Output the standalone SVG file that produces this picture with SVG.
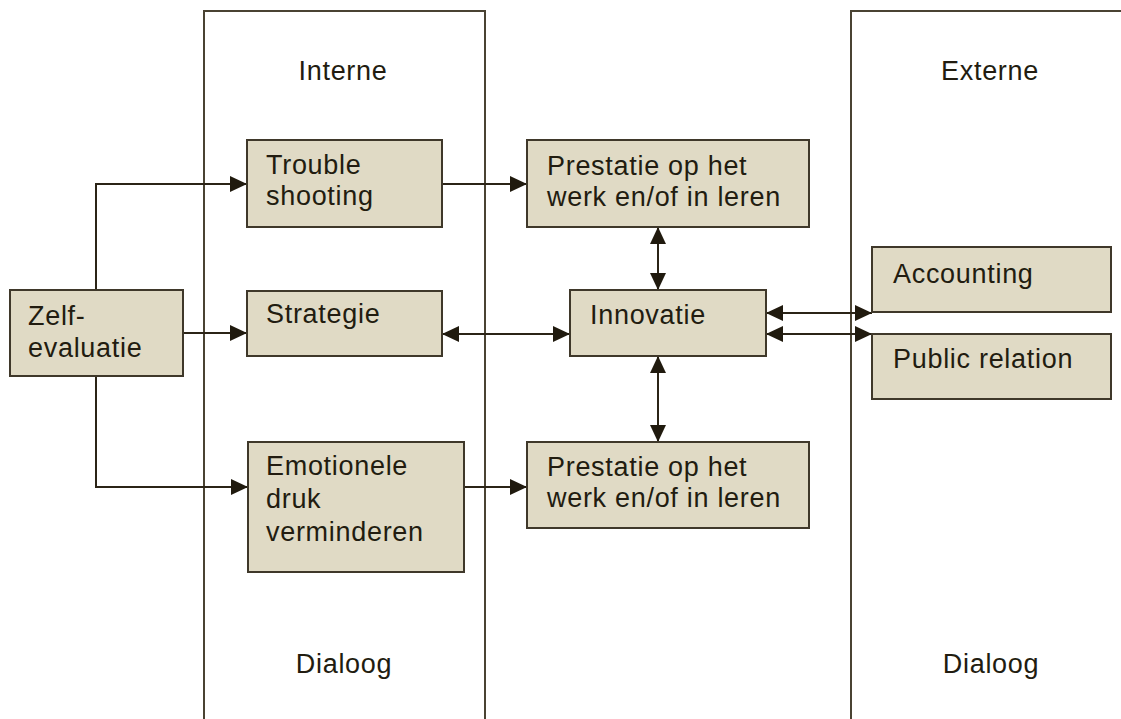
<svg xmlns="http://www.w3.org/2000/svg" width="1121" height="719" viewBox="0 0 1121 719">
<style>
  .panel { fill: none; stroke: #4a4333; stroke-width: 2; }
  .box { fill: #e0dac5; stroke: #3f382a; stroke-width: 2; }
  .lbl { font-family: "Liberation Sans", Arial, sans-serif; font-size: 27px; letter-spacing: 0.7px; fill: #221c10; }
  .hd { font-family: "Liberation Sans", Arial, sans-serif; font-size: 27px; letter-spacing: 0.7px; fill: #221c10; text-anchor: middle; }
  .con { fill: none; stroke: #2b2417; stroke-width: 2; }
</style>
<defs>
  <marker id="arr" viewBox="0 0 17 16" refX="17" refY="8" markerWidth="17" markerHeight="16" markerUnits="userSpaceOnUse" orient="auto-start-reverse">
    <path d="M0,0 L17,8 L0,16 Z" fill="#201a0e"/>
  </marker>
</defs>
<rect width="1121" height="719" fill="#ffffff"/>
<g id="panel-interne">
  <path class="panel" d="M204,719 V11 H485 V719"/>
  <text class="hd" x="343" y="80">Interne</text>
  <text class="hd" x="344" y="673">Dialoog</text>
</g>
<g id="panel-externe">
  <path class="panel" d="M851,719 V11 H1121"/>
  <text class="hd" x="990" y="80">Externe</text>
  <text class="hd" x="991" y="673">Dialoog</text>
</g>
<g id="connectors">
  <path class="con" d="M96,290 V184 H247" marker-end="url(#arr)"/>
  <path class="con" d="M182,333 H247" marker-end="url(#arr)"/>
  <path class="con" d="M96,376 V487 H248" marker-end="url(#arr)"/>
  <path class="con" d="M442,184 H527" marker-end="url(#arr)"/>
  <path class="con" d="M464,487 H527" marker-end="url(#arr)"/>
  <path class="con" d="M442,334 H570" marker-start="url(#arr)" marker-end="url(#arr)"/>
  <path class="con" d="M658,227 V290" marker-start="url(#arr)" marker-end="url(#arr)"/>
  <path class="con" d="M658,356 V442" marker-start="url(#arr)" marker-end="url(#arr)"/>
  <path class="con" d="M766,313 H872" marker-start="url(#arr)" marker-end="url(#arr)"/>
  <path class="con" d="M766,334 H872" marker-start="url(#arr)" marker-end="url(#arr)"/>
</g>
<g id="zelf-evaluatie">
  <rect class="box" x="10" y="290" width="173" height="86"/>
  <text class="lbl" x="28" y="325">Zelf-</text>
  <text class="lbl" x="28" y="357">evaluatie</text>
</g>
<g id="trouble-shooting">
  <rect class="box" x="247" y="140" width="195" height="87"/>
  <text class="lbl" x="266" y="174">Trouble</text>
  <text class="lbl" x="266" y="205">shooting</text>
</g>
<g id="strategie">
  <rect class="box" x="247" y="291" width="195" height="65"/>
  <text class="lbl" x="266" y="323">Strategie</text>
</g>
<g id="emotionele-druk">
  <rect class="box" x="248" y="442" width="216" height="130"/>
  <text class="lbl" x="266" y="475">Emotionele</text>
  <text class="lbl" x="266" y="508">druk</text>
  <text class="lbl" x="266" y="541">verminderen</text>
</g>
<g id="prestatie-top">
  <rect class="box" x="527" y="140" width="282" height="87"/>
  <text class="lbl" x="547" y="175">Prestatie op het</text>
  <text class="lbl" x="547" y="206">werk en/of in leren</text>
</g>
<g id="innovatie">
  <rect class="box" x="570" y="290" width="196" height="66"/>
  <text class="lbl" x="590" y="324">Innovatie</text>
</g>
<g id="prestatie-bottom">
  <rect class="box" x="527" y="442" width="282" height="86"/>
  <text class="lbl" x="547" y="476">Prestatie op het</text>
  <text class="lbl" x="547" y="507">werk en/of in leren</text>
</g>
<g id="accounting">
  <rect class="box" x="872" y="247" width="239" height="65"/>
  <text class="lbl" x="893" y="283">Accounting</text>
</g>
<g id="public-relation">
  <rect class="box" x="872" y="334" width="239" height="65"/>
  <text class="lbl" x="893" y="368">Public relation</text>
</g>
</svg>
